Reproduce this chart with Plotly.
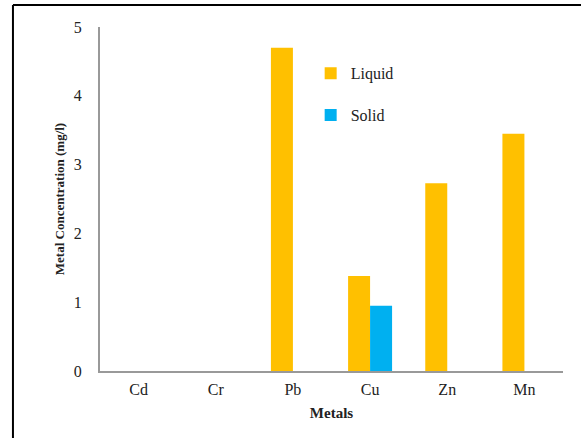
import plotly.graph_objects as go

categories = ["Cd", "Cr", "Pb", "Cu", "Zn", "Mn"]
liquid = [0, 0, 4.7, 1.38, 2.73, 3.45]
solid = [0, 0, 0, 0.95, 0, 0]
y_ticks = [0, 1, 2, 3, 4, 5]

FONT = "Liberation Serif, Times New Roman, serif"

fig = go.Figure()
fig.add_trace(go.Bar(x=categories, y=liquid, name="Liquid", marker_color="#FFC000",
                     marker_line_width=0, legendgroup="a"))
fig.add_trace(go.Bar(x=categories, y=solid, name="Solid", marker_color="#00B0F0",
                     marker_line_width=0, legendgroup="b"))

fig.update_layout(
    width=581, height=438,
    margin=dict(l=100, r=18, t=27, b=67),
    paper_bgcolor="white", plot_bgcolor="white",
    font=dict(family=FONT, size=16, color="#222"),
    barmode="group", bargap=0.43, bargroupgap=0,
    showlegend=True,
    legend=dict(x=0.455, y=0.915, xanchor="left", yanchor="top",
                traceorder="grouped", tracegroupgap=18,
                font=dict(family=FONT, size=16, color="#222"),
                itemwidth=30, bgcolor="rgba(0,0,0,0)"),
    xaxis=dict(showline=True, linecolor="#999", linewidth=2, ticks="",
               showgrid=False, tickfont=dict(size=16), ticklabelstandoff=3,
               title=dict(text="<b>Metals</b>", font=dict(size=15), standoff=10)),
    yaxis=dict(range=[0, 5], tickvals=y_ticks, showline=True, linecolor="#999",
               linewidth=2, ticks="", showgrid=False, zeroline=False,
               tickfont=dict(size=16), ticklabelstandoff=13,
               title=dict(text="<b>Metal Concentration (mg/l)</b>", font=dict(size=13),
                          standoff=6)),
    shapes=[
        dict(type="line", xref="paper", yref="paper", x0=-0.188, x1=1.1, y0=1.064, y1=1.064,
             line=dict(color="black", width=2)),
        dict(type="line", xref="paper", yref="paper", x0=-0.188, x1=-0.188, y0=1.064, y1=-0.25,
             line=dict(color="black", width=2)),
    ],
)

fig.write_html("out.html", config={"displayModeBar": False},
               post_script="document.body.style.margin='0';")
